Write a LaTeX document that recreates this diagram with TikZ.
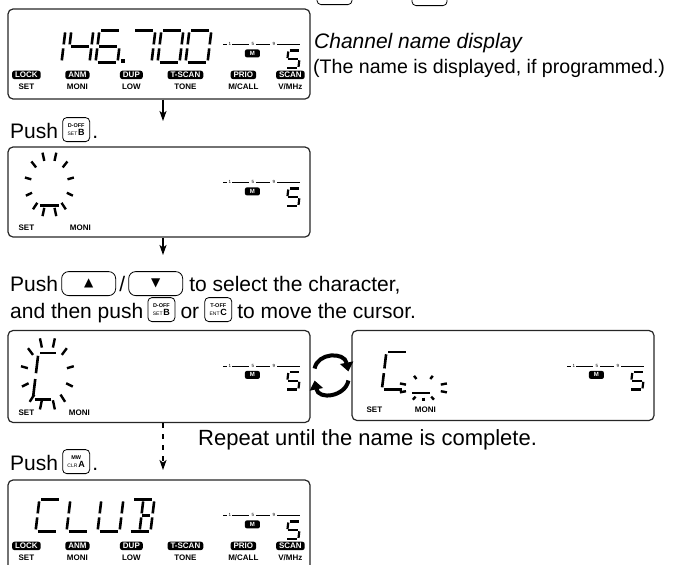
\documentclass[tikz,border=0pt]{standalone}
\usepackage{fontspec}
\setmainfont{Liberation Sans}
\newfontfamily\symfont{DejaVu Sans}
\usepackage{tikz}
\usetikzlibrary{positioning,arrows.meta,calc}

% LCD segments of one character cell, 22 wide and 32 high, y downwards
\def\segA{(2,0) -- (20,0)}
\def\segB{(22,2) -- (22,14)}
\def\segC{(22,18) -- (22,30)}
\def\segD{(2,32) -- (20,32)}
\def\segE{(0,18) -- (0,30)}
\def\segF{(0,2) -- (0,14)}
\def\segG{(2,16) -- (20,16)}
\def\segH{(12,16) -- (20,16)}
\def\segI{(11,2) -- (11,14)}
\def\segJ{(11,18) -- (11,30)}

\newcommand\lcddraw[1]{\draw #1;}
\newcommand\lcdseg[1]{\expandafter\lcddraw\expandafter{#1}}
\newcommand\lcdchar[4]{%
  \begin{scope}[shift={(#1,#2)}, xslant=0.12, #3]
    \foreach \s in {#4} {\expandafter\lcdseg\csname seg\s\endcsname}
  \end{scope}}

% blinking marks round the cursor
\newcommand\lcdblink[5]{%
  \foreach \a in {#5}
    \draw[line width=2.4pt] ({#1+0.74*#3*cos(\a)},{#2-0.74*#4*sin(\a)}) -- ({#1+#3*cos(\a)},{#2-#4*sin(\a)});}

% memory channel indicator at the right of every display
\newcommand\lcdind[1]{%
  \draw[line width=0.7pt] (216,36) -- (220,36) (225,36) -- (242,36) (249,36) -- (263,36) (270,36) -- (293,36);
  \node[tick] (#1-t1) at (222.5,36) {1};
  \node[tick] (#1-t5) at (245.5,36) {5};
  \node[tick] (#1-t9) at (266.5,36) {9};
  \node[mbadge] (#1-m) at (245,45) {M};
  \lcdchar{281}{42}{scale=0.55, line width=2.2pt}{A,F,G,C,D}}

% function labels along the bottom of a display
\newcommand\lcdkeys[1]{%
  \foreach \x/\p/\l [count=\i] in {19/LOCK/SET, 70/ANM/MONI, 124/DUP/LOW, 178/T-SCAN/TONE, 236/PRIO/{M/CALL}, 283/SCAN/{V/MHz}} {
    \node[pill] (#1-p\i) at (\x,66.5) {\p};
    \node[lab] (#1-l\i) at (\x,78) {\l};
  }}

\begin{document}
\begin{tikzpicture}[x=1pt, y=-1pt,
  lcd/.style={draw=black!85, line width=1.2pt, rounded corners=5pt, minimum width=302pt, minimum height=90pt, inner sep=0pt},
  txt/.style={inner sep=0pt, font=\fontsize{21}{24}\selectfont},
  key/.style={draw, line width=0.8pt, rounded corners=4pt, minimum width=27pt, minimum height=24pt, inner sep=1pt, align=center, font=\fontsize{5.5}{5.5}\selectfont\bfseries},
  arrowkey/.style={draw, line width=0.8pt, rounded corners=7pt, minimum width=54pt, minimum height=24pt, inner sep=0pt, font=\symfont\fontsize{12}{12}\selectfont},
  pill/.style={fill=black, text=white, rounded corners=2.5pt, font=\fontsize{8}{8}\selectfont\bfseries, inner xsep=3pt, inner ysep=0pt, minimum height=8.5pt, text height=5.8pt, text depth=0pt},
  lab/.style={inner sep=0pt, font=\fontsize{8}{8}\selectfont\bfseries},
  tick/.style={inner sep=0pt, font=\fontsize{4.5}{5}\selectfont},
  mbadge/.style={fill=black, text=white, rounded corners=2pt, minimum width=15pt, minimum height=8pt, inner sep=0pt, font=\fontsize{6}{6}\selectfont\bfseries},
  flow/.style={-{Stealth[length=10pt,width=7pt,inset=2.5pt]}, line width=1.5pt},
  cyc/.style={-{Triangle[length=9pt,width=13pt]}, line width=4pt}
]
\useasboundingbox (0,0) rectangle (683,565);

% keys of the line above, cut off at the top
\node[key, minimum width=35pt, anchor=south] (keytopa) at (334.5,5) {};
\node[key, minimum width=35pt, anchor=south] (keytopb) at (429.5,6) {};

% displays
\node[lcd]                        (disp1) at (159,54)    {};
\node[lcd]                        (disp2) at (159,192)   {};
\node[lcd, minimum height=92pt]   (disp3) at (159,376.5) {};
\node[lcd]                        (disp4) at (503,375.5) {};
\node[lcd]                        (disp5) at (159,525)   {};

% frequency display
\begin{scope}[shift={(disp1.north west)}]
  \lcdchar{36}{22}{line width=2.6pt}{B,C}
  \lcdchar{64}{22}{line width=2.6pt}{F,G,B,C}
  \lcdchar{92}{22}{line width=2.6pt}{A,F,G,E,D,C}
  \fill (114,51) rectangle (117.5,54.5);
  \lcdchar{126}{22}{line width=2.6pt}{A,B,C}
  \lcdchar{154}{22}{line width=2.6pt}{A,B,C,D,E,F}
  \lcdchar{182}{22}{line width=2.6pt}{A,B,C,D,E,F}
  \lcdind{d1}
  \lcdkeys{d1}
\end{scope}

% first character blinking
\begin{scope}[shift={(disp2.north west)}]
  \lcdblink{42}{38}{25}{33}{74,106,44,136,12,168,-20,200,-49,229,-74,254}
  \draw[line width=2.6pt] (33,59) -- (52,59);
  \node[lab] (d2-l1) at (19,81) {SET};
  \node[lab] (d2-l2) at (73,81) {MONI};
  \lcdind{d2}
\end{scope}

\begin{scope}[shift={(disp3.north west)}]
  \lcdchar{31}{23}{line width=2.6pt, xscale=0.9, yscale=1.45}{A,F,E,D}
  \lcdblink{40}{44}{27}{37}{74,106,44,136,12,168,-20,200,-49,229,-74,254}
  \node[lab] (d3-l1) at (19,83) {SET};
  \node[lab] (d3-l2) at (72,83) {MONI};
  \lcdind{d3}
\end{scope}

\begin{scope}[shift={(disp4.north west)}]
  \lcdchar{35}{22}{line width=2.6pt, yscale=1.18}{A,F,E,D}
  \lcdblink{72}{58}{25}{13}{160,200,20,-20,112,68,245,270,295}
  \draw[line width=2.6pt] (61,63) -- (79,63);
  \node[lab] (d4-l1) at (23,80) {SET};
  \node[lab] (d4-l2) at (74,80) {MONI};
  \lcdind{d4}
\end{scope}

% name stored
\begin{scope}[shift={(disp5.north west)}]
  \lcdchar{32}{20}{line width=2.6pt}{A,F,E,D}
  \lcdchar{63}{20}{line width=2.6pt}{F,E,D}
  \lcdchar{94}{20}{line width=2.6pt}{F,E,D,C,B}
  \lcdchar{125}{20}{line width=2.6pt}{A,B,C,D,H,I,J}
  \lcdind{d5}
  \lcdkeys{d5}
\end{scope}

% texts and keys
\node[txt, anchor=base west] (chname) at (314,48) {\itshape Channel name display};
\node[txt, anchor=base west, font=\fontsize{19.6}{22}\selectfont] (chnote) at (313,73) {(The name is displayed, if programmed.)};

\node[txt, anchor=base west] (push1) at (10,138) {Push};
\node[key, anchor=south west, xshift=4pt, yshift=-4pt] (keyb1) at (push1.base east) {D-OFF\\{\mdseries\fontsize{5}{5}\selectfont SET}\,{\fontsize{9}{9}\selectfont B}};
\node[txt, anchor=base west, xshift=2pt] (dot1) at (keyb1.east |- push1.base) {.};

\node[txt, anchor=base west] (push2) at (10,291) {Push};
\node[arrowkey, anchor=south west, xshift=3pt, yshift=-5pt] (keyup) at (push2.base east) {▲};
\node[txt, anchor=base west, xshift=3pt] (slash) at (keyup.east |- push2.base) {/};
\node[arrowkey, anchor=south west, xshift=3pt, yshift=-5pt] (keydown) at (slash.base east) {▼};
\node[txt, anchor=base west, xshift=6pt] (select) at (keydown.east |- push2.base) {to select the character,};

\node[txt, anchor=base west] (then) at (10,318) {and then push};
\node[key, anchor=south west, xshift=4pt, yshift=-4pt] (keyb2) at (then.base east) {D-OFF\\{\mdseries\fontsize{5}{5}\selectfont SET}\,{\fontsize{9}{9}\selectfont B}};
\node[txt, anchor=base west, xshift=5pt] (or) at (keyb2.east |- then.base) {or};
\node[key, anchor=south west, xshift=5pt, yshift=-4pt] (keyc) at (or.base east) {T-OFF\\{\mdseries\fontsize{5}{5}\selectfont ENT}\,{\fontsize{9}{9}\selectfont C}};
\node[txt, anchor=base west, xshift=5pt] (move) at (keyc.east |- then.base) {to move the cursor.};

\node[txt, anchor=base west, font=\fontsize{22}{25}\selectfont] (repeat) at (198,445) {Repeat until the name is complete.};

\node[txt, anchor=base west] (push3) at (10,470) {Push};
\node[key, anchor=south west, xshift=4pt, yshift=-4pt] (keya) at (push3.base east) {MW\\{\mdseries\fontsize{5}{5}\selectfont CLR}\,{\fontsize{9}{9}\selectfont A}};
\node[txt, anchor=base west, xshift=2pt] (dot3) at (keya.east |- push3.base) {.};

% connectors
\coordinate (a1) at (163,121);
\coordinate (a2) at (163,255);
\coordinate (a3) at (163,470);
\draw[flow] (a1 |- disp1.south) -- (a1);
\draw[flow] (a2 |- disp2.south) -- (a2);
\draw[flow, dash pattern=on 5pt off 6pt] (a3 |- disp3.south) -- (a3);

\draw[cyc] ($(disp3.east)+(4,-8)$) .. controls +(3,-16) and +(-4,-20) .. ($(disp4.west)+(-3,-4)$);
\draw[cyc] ($(disp4.west)+(-3,5)$) .. controls +(-3,16) and +(4,20) .. ($(disp3.east)+(4,4)$);
\end{tikzpicture}
\end{document}
